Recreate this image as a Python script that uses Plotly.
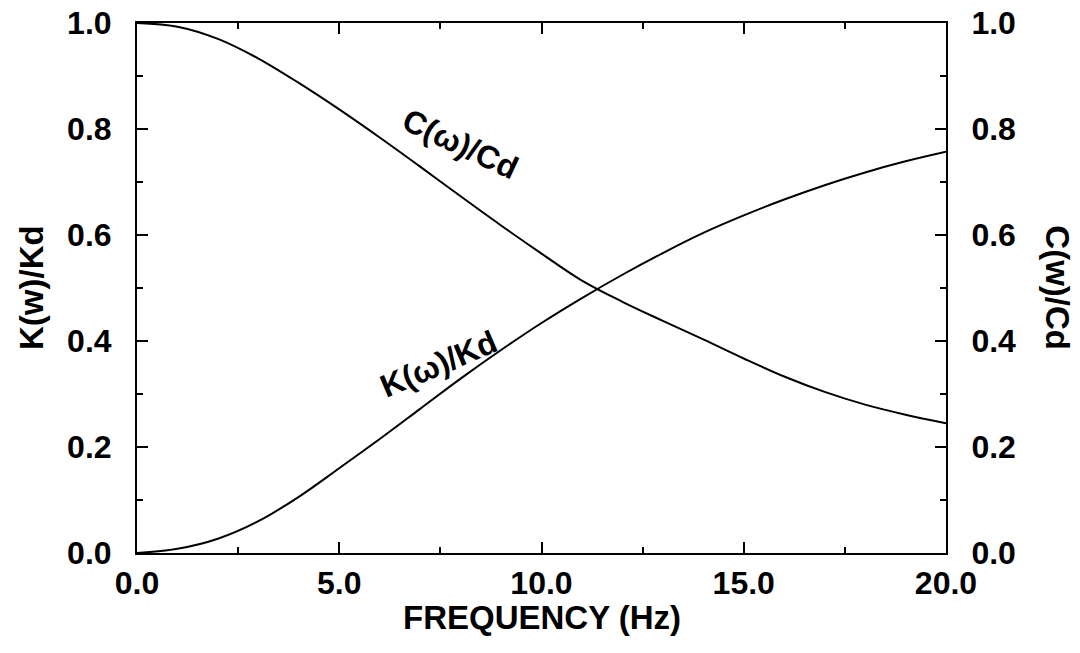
import plotly.graph_objects as go

freq = [0, 1, 2, 3, 4, 5, 6, 7, 8, 9, 10, 11, 12, 13, 14, 15, 16, 17, 18, 19, 20]
c_ratio = [1.0, 0.993, 0.970, 0.933, 0.887, 0.837, 0.784, 0.729, 0.673, 0.618, 0.565,
           0.514, 0.474, 0.438, 0.403, 0.367, 0.333, 0.304, 0.280, 0.261, 0.245]
k_ratio = [0.0, 0.008, 0.027, 0.060, 0.106, 0.160, 0.215, 0.272, 0.329, 0.383, 0.434,
           0.481, 0.525, 0.566, 0.604, 0.637, 0.667, 0.694, 0.718, 0.739, 0.757]

x_ticks = [0, 5, 10, 15, 20]
x_tick_text = ["0.0", "5.0", "10.0", "15.0", "20.0"]
y_ticks = [0, 0.2, 0.4, 0.6, 0.8, 1.0]
y_tick_text = ["0.0", "0.2", "0.4", "0.6", "0.8", "1.0"]

FONT = "Liberation Sans, Arial, Helvetica, sans-serif"
tickfont = dict(family=FONT, size=32, color="black", weight="bold")

fig = go.Figure()
fig.add_trace(go.Scatter(x=freq, y=k_ratio, mode="lines", line=dict(color="black", width=2),
                         line_shape="spline", showlegend=False))
fig.add_trace(go.Scatter(x=freq, y=c_ratio, mode="lines", line=dict(color="black", width=2),
                         line_shape="spline", showlegend=False, yaxis="y2"))

common_axis = dict(showline=True, linecolor="black", linewidth=2, ticks="inside",
                   ticklen=11, tickwidth=2, tickcolor="black", showgrid=False,
                   zeroline=False, tickfont=tickfont, automargin=False)

fig.update_layout(
    width=1080, height=653,
    margin=dict(l=137, r=134, t=23, b=100),
    paper_bgcolor="white", plot_bgcolor="white",
    xaxis=dict(range=[0, 20], tickvals=x_ticks, ticktext=x_tick_text, mirror="ticks",
               minor=dict(dtick=2.5, ticks="inside", ticklen=6, tickwidth=2, tickcolor="black"),
               ticklabelstandoff=1, **common_axis),
    yaxis=dict(range=[0, 1], tickvals=y_ticks, ticktext=y_tick_text,
               minor=dict(dtick=0.1, ticks="inside", ticklen=6, tickwidth=2, tickcolor="black"),
               ticklabelstandoff=17, **common_axis),
    yaxis2=dict(range=[0, 1], tickvals=y_ticks, ticktext=y_tick_text, overlaying="y",
                side="right",
                minor=dict(dtick=0.1, ticks="inside", ticklen=6, tickwidth=2, tickcolor="black"),
                ticklabelstandoff=17, **common_axis),
)

annot_font = dict(family=FONT, size=33, color="black", weight="bold")
fig.add_annotation(text="FREQUENCY (Hz)", xref="paper", yref="paper", x=0.5, y=-0.122,
                   yanchor="middle", showarrow=False,
                   font=dict(family=FONT, size=33, color="black", weight="bold"))
fig.add_annotation(text="K(w)/Kd", xref="paper", yref="paper", x=-0.131, y=0.5,
                   xanchor="center", yanchor="middle", textangle=-90, showarrow=False,
                   font=annot_font)
fig.add_annotation(text="C(w)/Cd", xref="paper", yref="paper", x=1.138, y=0.5,
                   xanchor="center", yanchor="middle", textangle=90, showarrow=False,
                   font=annot_font)
fig.add_annotation(text="C(ω)/Cd", x=8.0, y=0.772, xref="x", yref="y", textangle=25,
                   showarrow=False, font=dict(family=FONT, size=32, color="black", weight="bold"))
fig.add_annotation(text="K(ω)/Kd", x=7.45, y=0.357, xref="x", yref="y", textangle=-23,
                   showarrow=False, font=dict(family=FONT, size=32, color="black", weight="bold"))

fig.write_html("out.html")
